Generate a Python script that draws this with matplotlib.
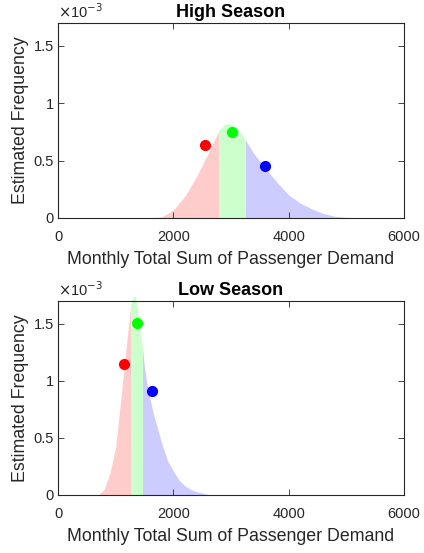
import matplotlib
matplotlib.use("Agg")
import matplotlib.pyplot as plt
import matplotlib.patches as mpatches
from matplotlib import ticker
import numpy as np


# High season: estimated density of monthly demand
high_x = [1600, 1800, 2000, 2200, 2400, 2600, 2800, 2900, 3000, 3100, 3200,
          3300, 3400, 3600, 3800, 4000, 4200, 4400, 4600, 4800, 5000, 5300]
high_density = [0.0, 0.01, 0.07, 0.19, 0.36, 0.56, 0.77, 0.82, 0.82, 0.79, 0.72,
                0.64, 0.56, 0.43, 0.31, 0.20, 0.13, 0.08, 0.04, 0.015, 0.005, 0.0]
high_bounds = [2800, 3265]
high_points_x = [2547, 3021, 3594]
high_points_y = [0.638, 0.754, 0.450]

# Low season
low_x = [700, 800, 900, 1000, 1100, 1200, 1260, 1300, 1340, 1400, 1460, 1500,
         1540, 1600, 1650, 1700, 1800, 1900, 2000, 2100, 2200, 2300, 2400, 2600, 2800]
low_density = [0.0, 0.05, 0.19, 0.42, 0.89, 1.38, 1.66, 1.74, 1.74, 1.56, 1.30, 1.12,
               0.98, 0.83, 0.72, 0.63, 0.45, 0.30, 0.21, 0.13, 0.08, 0.05, 0.03, 0.005, 0.0]
low_bounds = [1267, 1481]
low_points_x = [1146, 1366, 1637]
low_points_y = [1.148, 1.510, 0.913]

scale = 1e-3

fill_colours = ["#ffcccc", "#ccffcc", "#ccccff"]
point_colours = ["#ff0000", "#00ff00", "#0000ff"]

xticks = [0, 2000, 4000, 6000]
yticks = [0, 0.5e-3, 1e-3, 1.5e-3]

plt.rcParams["font.family"] = ["Liberation Sans", "DejaVu Sans"]


def draw_panel(axes, x, density, bounds, px, py, title):
    density = np.array(density) * scale
    edges = [0] + bounds + [6000]
    for i in range(3):
        poly = axes.fill_between(x, 0, density, color=fill_colours[i],
                                 linewidth=0, zorder=1)
        clip = mpatches.Rectangle((edges[i], 0), edges[i + 1] - edges[i], 1,
                                  transform=axes.transData)
        poly.set_clip_path(clip)
        axes.plot(px[i], py[i] * scale, "o", color=point_colours[i],
                  markersize=7, zorder=3)

    axes.set_xlim(0, 6000)
    axes.set_ylim(0, 1.7e-3)
    axes.set_xticks(xticks)
    axes.set_yticks(yticks)
    axes.yaxis.set_major_formatter(
        ticker.FuncFormatter(lambda v, pos: "{:g}".format(round(v / scale, 3))))
    axes.tick_params(direction="in", top=True, right=True, length=4,
                     width=0.6, labelsize=10.5, colors="#262626")
    axes.tick_params(axis="x", pad=9)
    axes.tick_params(axis="y", pad=3)
    for spine in axes.spines.values():
        spine.set_color("#262626")
        spine.set_linewidth(0.8)
    axes.set_title(title, fontsize=13, fontweight="bold", pad=4.5)
    axes.set_xlabel("Monthly Total Sum of Passenger Demand", fontsize=12.8,
                    color="#262626", labelpad=5)
    axes.set_ylabel("Estimated Frequency", fontsize=12.8, color="#262626",
                    labelpad=3)
    axes.text(0.0, 1.01, r"$\times$10$^{-3}$", transform=axes.transAxes,
              fontsize=10.5, color="#262626", ha="left", va="bottom")


figure = plt.figure(figsize=(4.24, 5.53), dpi=100)
top = figure.add_axes([0.1368, 0.6058, 0.816, 0.3526])
bottom = figure.add_axes([0.1368, 0.1049, 0.816, 0.3508])

draw_panel(top, high_x, high_density, high_bounds,
           high_points_x, high_points_y, "High Season")
draw_panel(bottom, low_x, low_density, low_bounds,
           low_points_x, low_points_y, "Low Season")

plt.savefig("out.png", dpi=100)
plt.close()
